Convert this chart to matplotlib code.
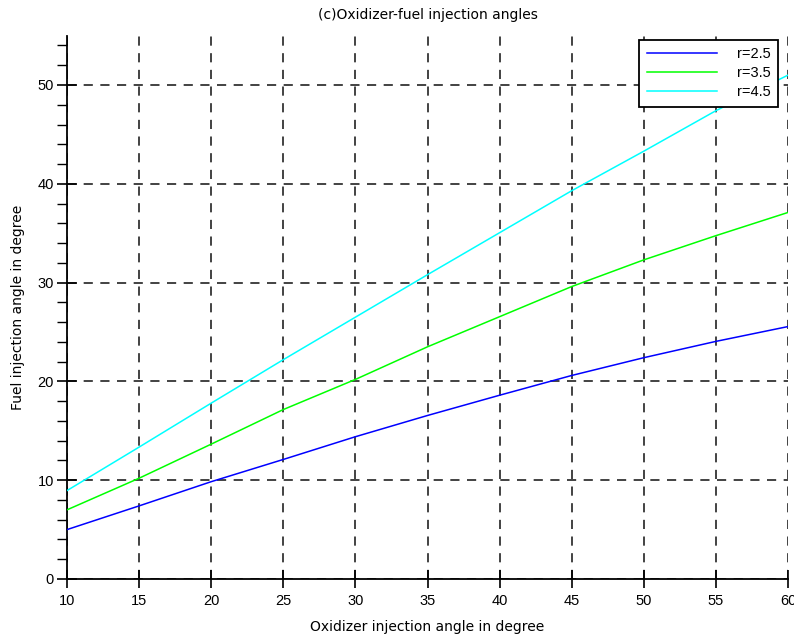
import matplotlib
matplotlib.use("Agg")
import matplotlib.pyplot as plt
from matplotlib.ticker import MultipleLocator

# Data
oxidizer_angle = [10, 15, 20, 25, 30, 35, 40, 45, 50, 55, 60]
fuel_r25 = [5.0, 7.4, 9.85, 12.1, 14.4, 16.55, 18.6, 20.6, 22.4, 24.05, 25.55]
fuel_r35 = [7.0, 10.2, 13.65, 17.15, 20.2, 23.5, 26.55, 29.6, 32.3, 34.75, 37.1]
fuel_r45 = [8.95, 13.35, 17.8, 22.2, 26.5, 30.8, 35.05, 39.3, 43.3, 47.4, 51.0]
labels = ["r=2.5", "r=3.5", "r=4.5"]
colors = ["#0000ff", "#00ff00", "#00ffff"]

plt.rcParams['font.family'] = ['Liberation Sans', 'DejaVu Sans']
text_font = ['DejaVu Sans']

W, H = 794, 636
fig = plt.figure(figsize=(W / 100, H / 100), dpi=100)
ax = fig.add_axes([67 / W, 1 - 579 / H, (788 - 67) / W, (579 - 35.6) / H])

for ys, lab, c in zip([fuel_r25, fuel_r35, fuel_r45], labels, colors):
    ax.plot(oxidizer_angle, ys, color=c, lw=1.1, label=lab, zorder=3)

ax.set_xlim(10, 60)
ax.set_ylim(0, 55)
ax.xaxis.set_major_locator(MultipleLocator(5))
ax.yaxis.set_major_locator(MultipleLocator(10))
ax.yaxis.set_minor_locator(MultipleLocator(2))

for s in ['top', 'right']:
    ax.spines[s].set_visible(False)
for s in ['left', 'bottom']:
    ax.spines[s].set_linewidth(1.3)
    ax.spines[s].set_color('black')

ax.tick_params(axis='x', which='major', direction='inout', length=13, width=1.2, labelsize=10.5, pad=4)
ax.tick_params(axis='y', which='major', direction='inout', length=15, width=1.2, labelsize=10.5, pad=2)
ax.tick_params(axis='y', which='minor', direction='out', length=7, width=1.0)

ax.grid(True, which='major', color='#222222', linestyle=(0, (5.5, 4.5)), linewidth=1.2, zorder=1)
ax.set_axisbelow(True)

ax.set_title("(c)Oxidizer-fuel injection angles", fontsize=10, pad=12, family=text_font)
ax.set_xlabel("Oxidizer injection angle in degree", fontsize=10, labelpad=9, family=text_font)
ax.set_ylabel("Fuel injection angle in degree", fontsize=10, labelpad=9, family=text_font)

leg = ax.legend(loc='upper right', bbox_to_anchor=(778 / W, 1 - 40 / H), bbox_transform=fig.transFigure,
                fontsize=10.5, handlelength=4.8, handletextpad=1.4, borderpad=0.5, labelspacing=0.35,
                borderaxespad=0, fancybox=False, framealpha=1, edgecolor='black')
leg.get_frame().set_linewidth(1.3)

fig.savefig("out.png", dpi=100)
